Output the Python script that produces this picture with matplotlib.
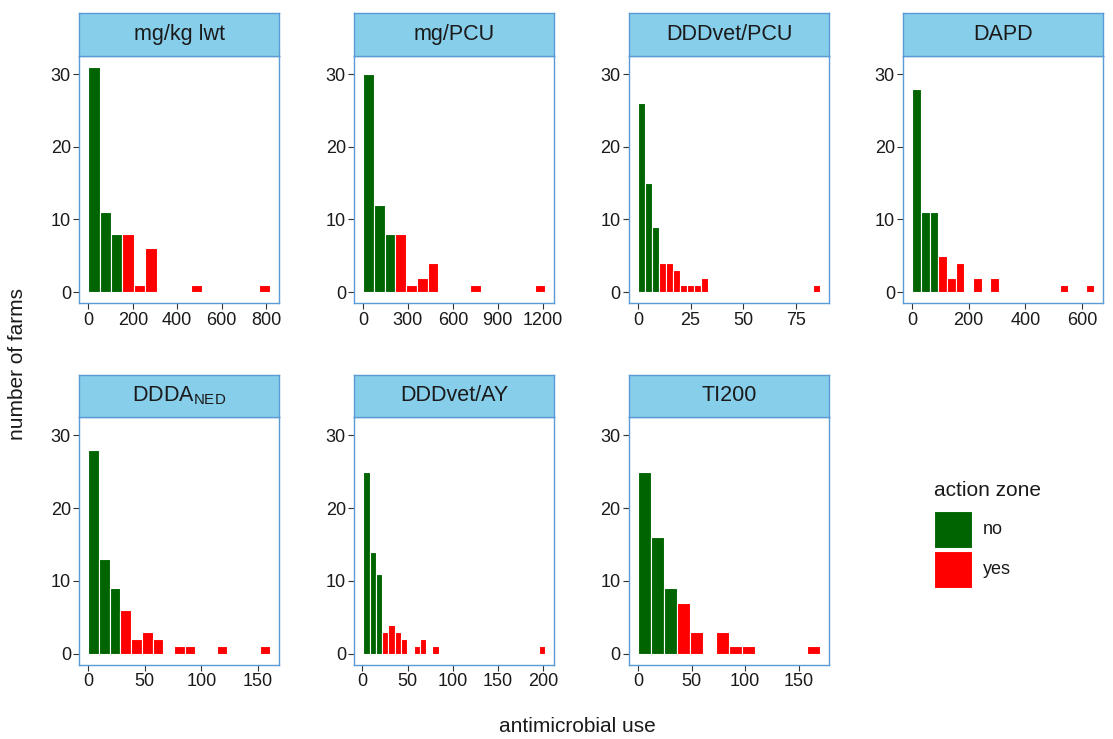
import numpy as np
import matplotlib
matplotlib.use('Agg')
import matplotlib.pyplot as plt
from matplotlib.patches import Rectangle

plt.rcParams['font.family'] = ['Liberation Sans', 'DejaVu Sans']
plt.rcParams['mathtext.fontset'] = 'custom'
plt.rcParams['mathtext.rm'] = 'Liberation Sans'
plt.rcParams['mathtext.default'] = 'regular'

# one histogram per AMU metric: first bin edge, bin width, counts per bin
titles = ['mg/kg lwt', 'mg/PCU', 'DDDvet/PCU', 'DAPD',
          r'DDDA$_{NED}$', 'DDDvet/AY', 'TI200']
bin_start = [0, 2, 0, 2, 0, 1, 0]
bin_width = [51.2, 71.5, 3.33, 30.5, 9.47, 6.95, 12.14]
counts = [
    [31, 11, 8, 8, 1, 6, 0, 0, 0, 1, 0, 0, 0, 0, 0, 1],
    [30, 12, 8, 8, 1, 2, 4, 0, 0, 0, 1, 0, 0, 0, 0, 0, 1],
    [26, 15, 9, 4, 4, 3, 1, 1, 1, 2, 0, 0, 0, 0, 0, 0, 0, 0, 0, 0, 0, 0, 0, 0, 0, 1],
    [28, 11, 11, 5, 2, 4, 0, 2, 0, 2, 0, 0, 0, 0, 0, 0, 0, 1, 0, 0, 1],
    [28, 13, 9, 6, 2, 3, 2, 0, 1, 1, 0, 0, 1, 0, 0, 0, 1],
    [25, 14, 11, 3, 4, 3, 2, 0, 1, 2, 0, 1, 0, 0, 0, 0, 0, 0, 0, 0, 0, 0, 0, 0, 0, 0, 0, 0, 1],
    [25, 16, 9, 7, 3, 0, 3, 1, 1, 0, 0, 0, 0, 1],
]
# bins below the action threshold ("no"), the rest are "yes"
no_bins = [3, 3, 3, 3, 3, 3, 3]
xticks = [
    [0, 200, 400, 600, 800],
    [0, 300, 600, 900, 1200],
    [0, 25, 50, 75],
    [0, 200, 400, 600],
    [0, 50, 100, 150],
    [0, 50, 100, 150, 200],
    [0, 50, 100, 150],
]
yticks = [0, 10, 20, 30]
zone_labels = ['no', 'yes']
zone_colors = ['#006400', '#ff0000']

W, H = 1113, 739
fig = plt.figure(figsize=(W / 100, H / 100), dpi=100)

col_left = [79.3, 354.3, 629, 903.3]
panel_w = 200
rows = [(55.7, 303.3, 12.7), (416.7, 665.0, 374.7)]  # panel top, bottom, strip top
border = '#5b9bd5'
ink = '#1a1a1a'

ymax = max(max(c) for c in counts)
ylim = (-0.05 * ymax, 1.05 * ymax)

for i, title in enumerate(titles):
    r, c = divmod(i, 4)
    top, bot, stop = rows[r]
    left = col_left[c]
    ax = fig.add_axes([left / W, 1 - bot / H, panel_w / W, (bot - top) / H])

    n = len(counts[i])
    edges = bin_start[i] + bin_width[i] * np.arange(n)
    cols = [zone_colors[0] if k < no_bins[i] else zone_colors[1] for k in range(n)]
    ax.bar(edges, counts[i], width=bin_width[i], align='edge',
           color=cols, edgecolor='white', linewidth=0.8)

    lo = bin_start[i]
    hi = bin_start[i] + bin_width[i] * n
    pad = 0.05 * (hi - lo)
    ax.set_xlim(lo - pad, hi + pad)
    ax.set_ylim(*ylim)
    ax.set_xticks(xticks[i])
    ax.set_yticks(yticks)
    ax.tick_params(labelsize=13, length=4, width=0.8, color='#333333',
                   labelcolor=ink, pad=2)
    for s in ax.spines.values():
        s.set_color(border)
        s.set_linewidth(1.0)

    # facet strip
    sax = fig.add_axes([left / W, 1 - top / H, panel_w / W, (top - stop) / H])
    sax.set_xlim(0, 1)
    sax.set_ylim(0, 1)
    sax.set_xticks([])
    sax.set_yticks([])
    sax.set_facecolor('#87ceeb')
    for s in sax.spines.values():
        s.set_color(border)
        s.set_linewidth(1.0)
    sax.text(0.5, 0.5, title, ha='center', va='center', fontsize=15.5,
             color=ink)

fig.text(17.5 / W, 1 - 364 / H, 'number of farms', rotation=90,
         ha='center', va='center', fontsize=15, color=ink)
fig.text(577 / W, 1 - 726 / H, 'antimicrobial use',
         ha='center', va='center', fontsize=15, color=ink)

# legend drawn by hand in figure pixels
fig.text(934 / W, 1 - 490 / H, 'action zone', ha='left', va='center',
         fontsize=15, color=ink)
for k, (lab, colr) in enumerate(zip(zone_labels, zone_colors)):
    y0 = 511 + k * 40
    fig.patches.append(Rectangle((934 / W, 1 - (y0 + 37) / H), 38 / W, 37 / H,
                                 transform=fig.transFigure, facecolor=colr,
                                 edgecolor='white', linewidth=0.8))
    fig.text(983 / W, 1 - (y0 + 18.5) / H, lab, ha='left', va='center',
             fontsize=13, color=ink)

fig.savefig('out.png', dpi=100, facecolor='white')
